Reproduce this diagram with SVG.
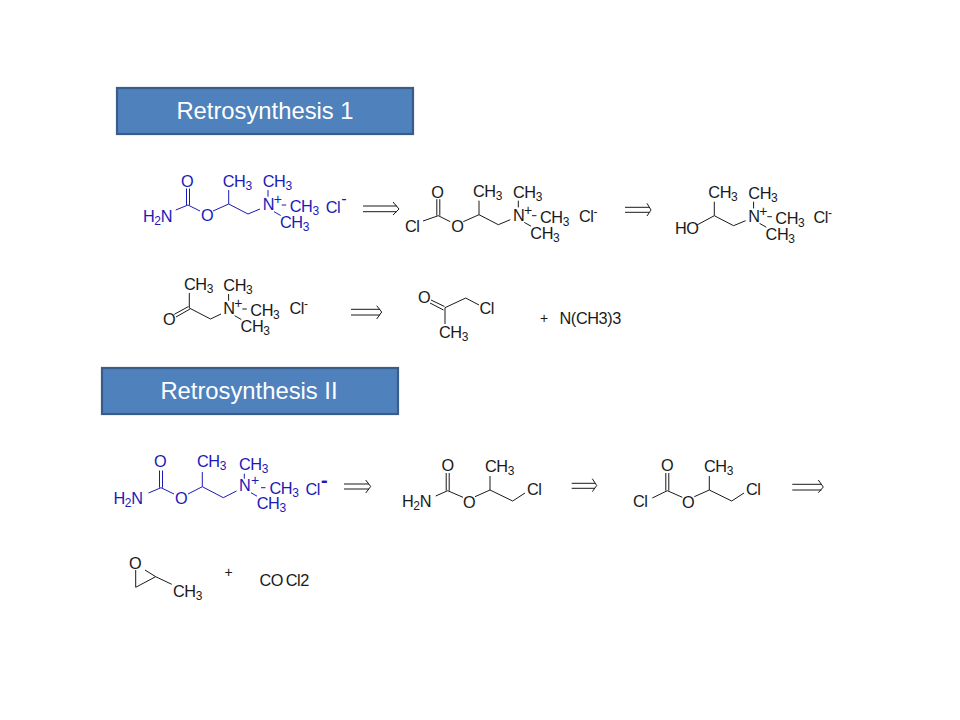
<svg xmlns="http://www.w3.org/2000/svg" width="960" height="720" viewBox="0 0 960 720">
<style>
text{font-family:"Liberation Sans",Arial,sans-serif;font-size:16.3px;letter-spacing:-0.4px}
.blue{fill:#1a1ab8;stroke:#1a1ab8}
.black{fill:#1a1a1a;stroke:#1a1a1a}
.blue text,.black text{stroke:none;stroke-width:0}
.bond{fill:none;stroke-width:1}
.sub{font-size:12px}
.plus{font-size:14px}
.box{fill:#4f81bd;stroke:#385d8a;stroke-width:2.2}
.title{font-size:23.8px;fill:#fff;text-anchor:middle;letter-spacing:0}
.arrow{fill:none;stroke:#1a1a1a;stroke-width:1}
</style>
<rect width="960" height="720" fill="#fff"/>

<g id="header-1"><rect class="box" x="117" y="88" width="296" height="46"/><text class="title" x="265" y="119">Retrosynthesis 1</text></g>
<g id="header-2"><rect class="box" x="102" y="368" width="296" height="46"/><text class="title" x="249" y="399">Retrosynthesis II</text></g>

<g id="mol-1" class="blue">
<path class="bond" d="M175.7 210L188 205L200 211M213 211L228.7 204V190M228.7 204L248 214L260 209M186.5 205V188.500M189.500 205V188.500"/>
<text x="143" y="221.700">H<tspan class="sub" dy="3">2</tspan><tspan dy="-3">N</tspan></text>
<text x="181" y="187">O</text><text x="201" y="221">O</text>
<text x="222.700" y="186.700">CH<tspan class="sub" dy="3">3</tspan></text>
<g transform="translate(262.700 210)">
<path class="bond" d="M5.300-20V-13.300M11.300 1.700L18 5.500M19-5H23.500"/>
<text>N</text><text class="plus" x="11" y="-6">+</text>
<text y="-23">CH<tspan class="sub" dy="3">3</tspan></text>
<text x="27" y="2">CH<tspan class="sub" dy="3">3</tspan></text>
<text x="17.300" y="18">CH<tspan class="sub" dy="3">3</tspan></text>
</g>
<text x="325.700" y="212.700">Cl<tspan dy="-8.700" dx="1">-</tspan></text>
</g>

<g id="mol-2" class="black">
<g transform="translate(250.300 10.700)">
<path class="bond" d="M172.700 210.300L188 205L200 211M213 211L228.700 204V190M228.700 204L248 214L260 209M186.500 205V188.500M189.500 205V188.500"/>
<text x="181" y="187">O</text><text x="201" y="221">O</text>
<text x="222.700" y="186.700">CH<tspan class="sub" dy="3">3</tspan></text>
<g transform="translate(262.700 210)">
<path class="bond" d="M5.300-20V-13.300M11.300 1.700L18 5.500M19-5H23.500"/>
<text>N</text><text class="plus" x="11" y="-6">+</text>
<text y="-23">CH<tspan class="sub" dy="3">3</tspan></text>
<text x="27" y="2">CH<tspan class="sub" dy="3">3</tspan></text>
<text x="17.300" y="18">CH<tspan class="sub" dy="3">3</tspan></text>
</g>
</g>
<text x="405" y="232">Cl</text>
<text x="579" y="221.700">Cl<tspan class="sub" dy="-6">-</tspan></text>
</g>

<g id="mol-3" class="black">
<g transform="translate(485.600 11.700)">
<path class="bond" d="M211.400 213.300L228.700 204V190M228.700 204L248 214L260 209"/>
<text x="222.700" y="186.700">CH<tspan class="sub" dy="3">3</tspan></text>
<g transform="translate(262.700 210)">
<path class="bond" d="M5.300-20V-13.300M11.300 1.700L18 5.500M19-5H23.500"/>
<text>N</text><text class="plus" x="11" y="-6">+</text>
<text y="-23">CH<tspan class="sub" dy="3">3</tspan></text>
<text x="27" y="2">CH<tspan class="sub" dy="3">3</tspan></text>
<text x="17.300" y="18">CH<tspan class="sub" dy="3">3</tspan></text>
</g>
</g>
<text x="675" y="234.300">HO</text>
<text x="813.500" y="223">Cl<tspan class="sub" dy="-6">-</tspan></text>
</g>

<g id="mol-4" class="black">
<path class="bond" d="M174.300 314.300L188.500 306.500M176 317L190 309M189.300 308V293M189.300 308L210.500 319L221 314"/>
<text x="163" y="325">O</text>
<text x="184" y="289.500">CH<tspan class="sub" dy="3">3</tspan></text>
<g transform="translate(223.300 314)">
<path class="bond" d="M5.300-20V-13.300M11.300 1.700L18 5.500M19-5H23.500"/>
<text>N</text><text class="plus" x="11" y="-6">+</text>
<text y="-23">CH<tspan class="sub" dy="3">3</tspan></text>
<text x="27" y="2">CH<tspan class="sub" dy="3">3</tspan></text>
<text x="17.300" y="18">CH<tspan class="sub" dy="3">3</tspan></text>
</g>
<text x="289.500" y="314">Cl<tspan class="sub" dy="-6">-</tspan></text>
</g>

<g id="mol-5" class="black">
<path class="bond" d="M431 300L444.500 306.500M430 303L443.500 310M445 307.700L465.700 298L479 305M445 307.700V324"/>
<text x="418" y="303">O</text>
<text x="479.500" y="314.300">Cl</text>
<text x="439" y="337.500">CH<tspan class="sub" dy="3">3</tspan></text>
</g>

<g id="reagent-1" class="black">
<text class="plus" x="540" y="323">+</text>
<text x="559.500" y="324">N(CH3)3</text>
</g>

<g id="mol-6" class="blue">
<path class="bond" d="M148.500 493L161 487.700L174 494M188 494L202.300 486.700V472M202.300 486.700L223.300 497.700L236.500 491M159.500 487.700V470.500M162.500 487.700V470.500"/>
<text x="113.500" y="504.300">H<tspan class="sub" dy="3">2</tspan><tspan dy="-3">N</tspan></text>
<text x="154" y="467">O</text><text x="175" y="503.500">O</text>
<text x="197" y="467.300">CH<tspan class="sub" dy="3">3</tspan></text>
<g transform="translate(239 490.700)">
<path class="bond" d="M5.300-17V-12M12 2L18 5.500M22-3H26.500"/>
<text>N</text><text class="plus" x="12" y="-6">+</text>
<text y="-20.700">CH<tspan class="sub" dy="3">3</tspan></text>
<text x="30.500" y="3">CH<tspan class="sub" dy="3">3</tspan></text>
<text x="17.700" y="18">CH<tspan class="sub" dy="3">3</tspan></text>
</g>
<text x="305.500" y="495">Cl<tspan dy="-8" dx="1" font-size="20" font-weight="bold">-</tspan></text>
</g>

<g id="mol-7" class="black">
<path class="bond" d="M435.700 496L447.700 490.700L463 497.300M475 496.700L490 490V476M490 490L512.700 501L525 493M446.200 490.700V473M449.200 490.700V473"/>
<text x="402" y="507.300">H<tspan class="sub" dy="3">2</tspan><tspan dy="-3">N</tspan></text>
<text x="441.500" y="471">O</text><text x="463" y="507.700">O</text>
<text x="485" y="472">CH<tspan class="sub" dy="3">3</tspan></text>
<text x="527" y="495">Cl</text>
</g>

<g id="mol-8" class="black">
<path class="bond" d="M652.300 498L667.300 490.700L682.300 497.300M694.300 496.700L709.300 490V476M709.300 490L731.700 501L744 493M665.800 490.700V473M668.800 490.700V473"/>
<text x="633" y="507.300">Cl</text>
<text x="661" y="471">O</text><text x="682" y="507.700">O</text>
<text x="704" y="472">CH<tspan class="sub" dy="3">3</tspan></text>
<text x="746" y="495">Cl</text>
</g>

<g id="mol-9" class="black">
<path class="bond" d="M135.700 570V587.300L155.700 576.700L145 570M155.700 576.700L171.700 584.300"/>
<text x="129" y="569">O</text>
<text x="173" y="597.300">CH<tspan class="sub" dy="3">3</tspan></text>
</g>

<g id="reagent-2" class="black">
<text class="plus" x="224.500" y="577">+</text>
<text x="259.500" y="586">CO<tspan dx="2.500">Cl2</tspan></text>
</g>

<g id="connectors">
<path class="arrow" d="M363 206H397M363 211.700H397M393 202L399 209L393 215"/>
<path class="arrow" d="M625 207.300H649M625 212.300H649M647 203.300L651 210L647 216"/>
<path class="arrow" d="M351 309.300H380M351 315H380M376.700 305.700L381.700 312L376.700 319"/>
<path class="arrow" d="M344 484H369M344 489H369M365.700 480L370.700 486.500L365.700 493"/>
<path class="arrow" d="M571.700 483.300H595M571.700 488.300H595M592.300 478.700L596.700 485.500L592.300 491.700"/>
<path class="arrow" d="M792.300 484.300H821.500M792.300 490H821.500M818.300 480L823.300 487L818.300 492.700"/>
</g>
</svg>
